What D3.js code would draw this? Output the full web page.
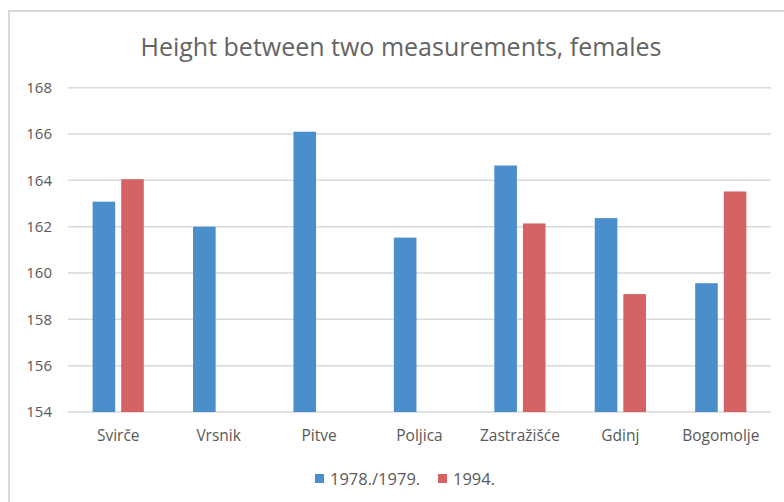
<!DOCTYPE html>
<html lang="en">
	<head>
		<meta charset="utf-8">
		<title>Height between two measurements, females</title>
		<script type="text/javascript" src="https://cdn.jsdelivr.net/npm/d3@7"></script>
		<style>
			body { margin: 0; background: #fff; }
			text {
				font-family: "Open Sans", sans-serif;
				fill: #595959;
			}
			.axis path { display: none; }
			.axis line { stroke: #d9d9d9; }
			.grid line { stroke: #d9d9d9; stroke-width: 1.5; }
		</style>
	</head>
	<body>
		<script type="text/javascript">
			var places = ["Svirče", "Vrsnik", "Pitve", "Poljica", "Zastražišće", "Gdinj", "Bogomolje"];
			var series = ["1978./1979.", "1994."];
			var first = [163.08, 162.0, 166.1, 161.53, 164.64, 162.37, 159.56];
			var second = [164.05, null, null, null, 162.14, 159.09, 163.52];
			var yTicks = [154, 156, 158, 160, 162, 164, 166, 168];
			var colors = ["#4a8ecb", "#d56364"];

			var w = 784;
			var h = 502;

			var svg = d3.select("body")
						.append("svg")
						.attr("width", w)
						.attr("height", h);

			// chart border (left and top only visible)
			svg.append("path")
			   .attr("d", "M9,502 V11 H784")
			   .attr("fill", "none")
			   .attr("stroke", "#d9d9d9")
			   .attr("stroke-width", 2);

			var xScale = d3.scaleBand()
						   .domain(places)
						   .range([68, 771]);

			var xInner = d3.scaleBand()
						   .domain(series)
						   .range([24.6, 75.8])
						   .paddingInner(0.21);

			var yScale = d3.scaleLinear()
						   .domain([154, 168])
						   .range([412, 87.7]);

			// grid lines
			svg.append("g")
			   .attr("class", "grid")
			   .selectAll("line")
			   .data(yTicks)
			   .enter()
			   .append("line")
			   .attr("x1", 68)
			   .attr("x2", 771)
			   .attr("y1", function(d) { return yScale(d); })
			   .attr("y2", function(d) { return yScale(d); });

			// bars
			var rows = places.map(function(p, i) {
				return { place: p, values: [first[i], second[i]] };
			});

			var groups = svg.selectAll(".group")
							.data(rows)
							.enter()
							.append("g")
							.attr("class", "group")
							.attr("transform", function(d) { return "translate(" + xScale(d.place) + ",0)"; });

			groups.selectAll("rect")
				  .data(function(d) {
					  return d.values.map(function(v, j) { return { s: series[j], v: v, j: j }; })
									 .filter(function(e) { return e.v !== null; });
				  })
				  .enter()
				  .append("rect")
				  .attr("x", function(d) { return xInner(d.s); })
				  .attr("width", xInner.bandwidth())
				  .attr("y", function(d) { return yScale(d.v); })
				  .attr("height", function(d) { return yScale(154) - yScale(d.v); })
				  .attr("fill", function(d) { return colors[d.j]; });

			// y axis
			var yAxis = d3.axisLeft(yScale)
						  .tickValues(yTicks)
						  .tickSize(0)
						  .tickPadding(0);

			svg.append("g")
			   .attr("class", "axis")
			   .attr("transform", "translate(52,0)")
			   .call(yAxis)
			   .selectAll("text")
			   .style("font-size", "15px")
			   .attr("fill", "#595959");

			// x axis
			var xAxis = d3.axisBottom(xScale)
						  .tickSize(0)
						  .tickPadding(0);

			svg.append("g")
			   .attr("class", "axis")
			   .attr("transform", "translate(0,430)")
			   .call(xAxis)
			   .selectAll("text")
			   .style("font-size", "15.5px")
			   .attr("fill", "#595959");

			// title
			svg.append("text")
			   .attr("x", 401)
			   .attr("y", 56)
			   .attr("text-anchor", "middle")
			   .style("font-size", "25px")
			   .style("fill", "#646464")
			   .text("Height between two measurements, females");

			// legend
			var legendX = [315, 438];
			var legend = svg.selectAll(".legend")
							.data(series)
							.enter()
							.append("g")
							.attr("class", "legend")
							.attr("transform", function(d, i) { return "translate(" + legendX[i] + ",474)"; });

			legend.append("rect")
				  .attr("width", 9)
				  .attr("height", 9)
				  .attr("fill", function(d, i) { return colors[i]; });

			legend.append("text")
				  .attr("x", 15)
				  .attr("y", 10.5)
				  .style("font-size", "16.5px")
				  .text(function(d) { return d; });
		</script>
	</body>
</html>
